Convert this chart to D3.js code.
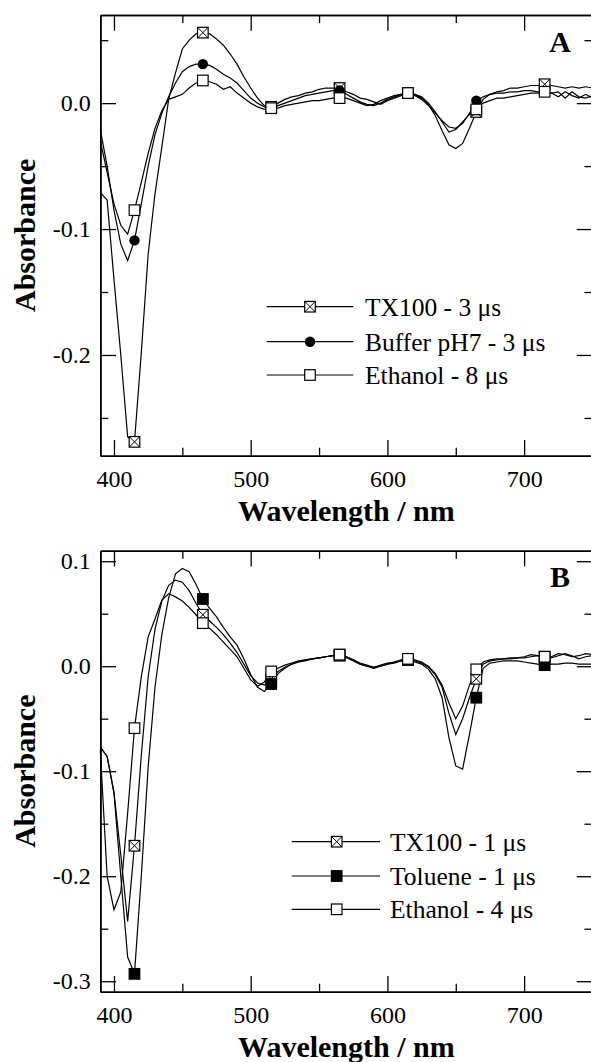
<!DOCTYPE html>
<html>
<head>
<meta charset="utf-8">
<script src="https://cdn.jsdelivr.net/npm/d3@7"></script>
<style>
  body { margin: 0; background: #fff; }
</style>
</head>
<body>
<svg id="chart" width="591" height="1062"></svg>
<script>
// wavelength grid (nm)
const wavelengths = [
  390, 395, 400, 405, 410, 415, 420, 425, 430, 435,
  440, 445, 450, 455, 460, 465, 470, 475, 480, 485,
  490, 495, 500, 505, 510, 515, 520, 525, 530, 535,
  540, 545, 550, 555, 560, 565, 570, 575, 580, 585,
  590, 595, 600, 605, 610, 615, 620, 625, 630, 635,
  640, 645, 650, 655, 660, 665, 670, 675, 680, 685,
  690, 695, 700, 705, 710, 715, 720, 725, 730, 735,
  740, 745, 750
];
const markerWl = [415, 465, 515, 565, 615, 665, 715];

// panel A
const tx100A = [
  -0.071, -0.077, -0.140, -0.200, -0.265, -0.269, -0.198, -0.120, -0.072, -0.035,
  0.003, 0.024, 0.043, 0.050, 0.055, 0.056, 0.055, 0.051, 0.046, 0.039,
  0.031, 0.021, 0.012, 0.004, -0.002, -0.003, 0.000, 0.003, 0.005, 0.006,
  0.008, 0.009, 0.011, 0.012, 0.012, 0.012, 0.009, 0.007, 0.004, 0.003,
  0.001, -0.001, 0.002, 0.004, 0.006, 0.008, 0.007, 0.004, -0.001, -0.010,
  -0.022, -0.033, -0.036, -0.032, -0.020, -0.007, 0.003, 0.007, 0.009, 0.010,
  0.012, 0.012, 0.013, 0.014, 0.014, 0.015, 0.014, 0.013, 0.012, 0.013,
  0.012, 0.013, 0.012
];
const bufferA = [
  -0.021, -0.050, -0.085, -0.112, -0.125, -0.109, -0.080, -0.050, -0.025, -0.008,
  0.005, 0.016, 0.025, 0.029, 0.031, 0.031, 0.030, 0.027, 0.023, 0.020,
  0.016, 0.010, 0.004, 0.000, -0.003, -0.004, -0.002, 0.000, 0.002, 0.004,
  0.006, 0.007, 0.008, 0.009, 0.010, 0.010, 0.007, 0.004, 0.001, -0.001,
  -0.002, 0.000, 0.003, 0.005, 0.007, 0.008, 0.006, 0.003, -0.002, -0.008,
  -0.014, -0.019, -0.020, -0.016, -0.008, 0.002, 0.005, 0.007, 0.008, 0.008,
  0.009, 0.009, 0.010, 0.010, 0.009, 0.009, 0.008, 0.005, 0.009, 0.006,
  0.004, 0.007, 0.004
];
const ethanolA = [
  -0.030, -0.055, -0.080, -0.097, -0.104, -0.085, -0.063, -0.040, -0.020, -0.006,
  0.003, 0.005, 0.007, 0.012, 0.016, 0.018, 0.017, 0.015, 0.011, 0.013,
  0.008, 0.004, 0.000, -0.003, -0.005, -0.004, -0.004, -0.002, -0.001, 0.000,
  0.001, 0.002, 0.002, 0.003, 0.004, 0.004, 0.004, 0.002, 0.000, -0.002,
  -0.001, 0.002, 0.004, 0.006, 0.007, 0.008, 0.007, 0.005, 0.000, -0.007,
  -0.015, -0.023, -0.021, -0.015, -0.009, -0.005, 0.000, 0.002, 0.004, 0.004,
  0.005, 0.006, 0.007, 0.008, 0.008, 0.009, 0.008, 0.009, 0.004, 0.009,
  0.005, 0.004, 0.006
];
const labelsA = ['TX100 - 3 \u03bcs', 'Buffer pH7 - 3 \u03bcs', 'Ethanol - 8 \u03bcs'];

// panel B
const tx100B = [
  -0.077, -0.086, -0.120, -0.180, -0.243, -0.171, -0.085, -0.010, 0.035, 0.062,
  0.077, 0.082, 0.080, 0.072, 0.060, 0.049, 0.043, 0.037, 0.030, 0.022,
  0.013, 0.002, -0.009, -0.016, -0.018, -0.012, -0.005, -0.001, 0.002, 0.004,
  0.005, 0.007, 0.008, 0.009, 0.010, 0.010, 0.008, 0.005, 0.002, 0.000,
  -0.001, 0.000, 0.002, 0.004, 0.005, 0.006, 0.005, 0.003, -0.001, -0.008,
  -0.020, -0.045, -0.065, -0.050, -0.030, -0.012, 0.002, 0.005, 0.006, 0.007,
  0.007, 0.008, 0.008, 0.009, 0.010, 0.009, 0.008, 0.010, 0.012, 0.010,
  0.007, 0.009, 0.010
];
const tolueneB = [
  -0.077, -0.086, -0.121, -0.200, -0.277, -0.293, -0.200, -0.096, -0.020, 0.030,
  0.065, 0.088, 0.093, 0.090, 0.078, 0.064, 0.055, 0.047, 0.037, 0.028,
  0.020, 0.007, -0.008, -0.020, -0.024, -0.017, -0.007, -0.002, 0.002, 0.004,
  0.006, 0.007, 0.008, 0.009, 0.010, 0.011, 0.009, 0.006, 0.002, 0.000,
  -0.002, 0.000, 0.002, 0.003, 0.005, 0.006, 0.004, 0.002, -0.003, -0.012,
  -0.030, -0.068, -0.095, -0.098, -0.065, -0.030, -0.002, 0.003, 0.004, 0.005,
  0.005, 0.005, 0.004, 0.003, 0.002, 0.001, 0.002, 0.002, 0.003, 0.003,
  0.002, 0.002, 0.002
];
const ethanolB = [
  -0.080, -0.200, -0.232, -0.215, -0.140, -0.059, -0.010, 0.028, 0.045, 0.063,
  0.069, 0.066, 0.062, 0.056, 0.049, 0.041, 0.036, 0.030, 0.023, 0.016,
  0.009, -0.002, -0.013, -0.019, -0.015, -0.005, -0.002, 0.001, 0.003, 0.005,
  0.006, 0.007, 0.008, 0.009, 0.010, 0.011, 0.009, 0.006, 0.003, 0.001,
  -0.001, 0.001, 0.003, 0.004, 0.006, 0.007, 0.006, 0.004, 0.000, -0.007,
  -0.018, -0.035, -0.050, -0.038, -0.018, -0.003, 0.004, 0.006, 0.007, 0.007,
  0.008, 0.008, 0.009, 0.011, 0.010, 0.009, 0.009, 0.012, 0.011, 0.009,
  0.010, 0.012, 0.011
];
const labelsB = ['TX100 - 1 \u03bcs', 'Toluene - 1 \u03bcs', 'Ethanol - 4 \u03bcs'];

// ticks
const xMajor = [400, 500, 600, 700];
const xMinor = [450, 550, 650, 750];
const yMajorA = [-0.2, -0.1, 0.0];
const yMinorA = [-0.25, -0.15, -0.05, 0.05];
const yMajorB = [-0.3, -0.2, -0.1, 0.0, 0.1];
const yMinorB = [-0.25, -0.15, -0.05, 0.05];

const font = '"Liberation Serif", "Times New Roman", Times, serif';
const svg = d3.select('#chart');

function drawMarker(g, type) {
  const s = 5.3;
  if (type === 'circle') {
    g.append('circle').attr('r', 5.2).attr('fill', '#000');
    return;
  }
  g.append('rect')
    .attr('x', -s).attr('y', -s).attr('width', 2 * s).attr('height', 2 * s)
    .attr('fill', type === 'filled' ? '#000' : '#fff')
    .attr('stroke', '#000').attr('stroke-width', 1.2);
  if (type === 'cross') {
    g.append('path')
      .attr('d', `M${-s},${-s}L${s},${s}M${s},${-s}L${-s},${s}`)
      .attr('stroke', '#000').attr('stroke-width', 1);
  }
}

function styleAxis(sel, showText) {
  sel.attr('font-family', font).attr('font-size', 24);
  sel.select('.domain').attr('stroke', '#000').attr('stroke-width', 1.6);
  sel.selectAll('.tick line').attr('stroke', '#000').attr('stroke-width', 1.3);
  sel.selectAll('.tick text').attr('fill', '#000');
  if (!showText) sel.selectAll('.tick text').remove();
}

function drawPanel(p) {
  const left = 100.3, right = 592.5;
  const x = d3.scaleLinear().domain([390, 750]).range([left, right]);
  const y = d3.scaleLinear().domain(p.yDomain).range([p.bottom, p.top]);
  const g = svg.append('g');
  const major = 15.7, minor = 8;

  // bottom
  g.append('g').attr('transform', `translate(0,${p.bottom})`)
    .call(d3.axisBottom(x).tickValues(xMajor).tickSize(-major).tickSizeOuter(0)
      .tickPadding(14).tickFormat(d3.format('d')))
    .call(styleAxis, true);
  g.append('g').attr('transform', `translate(0,${p.bottom})`)
    .call(d3.axisBottom(x).tickValues(xMinor).tickSize(-minor).tickSizeOuter(0))
    .call(styleAxis, false);
  // top
  g.append('g').attr('transform', `translate(0,${p.top})`)
    .call(d3.axisTop(x).tickValues(xMajor).tickSize(-major).tickSizeOuter(0))
    .call(styleAxis, false);
  g.append('g').attr('transform', `translate(0,${p.top})`)
    .call(d3.axisTop(x).tickValues(xMinor).tickSize(-minor).tickSizeOuter(0))
    .call(styleAxis, false);
  // left
  g.append('g').attr('transform', `translate(${left},0)`)
    .call(d3.axisLeft(y).tickValues(p.yMajor).tickSize(-major).tickSizeOuter(0)
      .tickPadding(9.5).tickFormat(d => d.toFixed(1)))
    .call(styleAxis, true);
  g.append('g').attr('transform', `translate(${left},0)`)
    .call(d3.axisLeft(y).tickValues(p.yMinor).tickSize(-minor).tickSizeOuter(0))
    .call(styleAxis, false);
  // right
  g.append('g').attr('transform', `translate(${right},0)`)
    .call(d3.axisRight(y).tickValues(p.yMajor).tickSize(-major).tickSizeOuter(0))
    .call(styleAxis, false);
  g.append('g').attr('transform', `translate(${right},0)`)
    .call(d3.axisRight(y).tickValues(p.yMinor).tickSize(-minor).tickSizeOuter(0))
    .call(styleAxis, false);

  // curves
  const line = d3.line().x((d, i) => x(wavelengths[i])).y(d => y(d));
  p.series.forEach(s => {
    g.append('path').datum(s.values)
      .attr('d', line)
      .attr('fill', 'none').attr('stroke', '#000').attr('stroke-width', 1.2)
      .attr('stroke-linejoin', 'miter');
  });
  // markers
  p.series.forEach(s => {
    const pts = markerWl.map(w => ({ w: w, v: s.values[wavelengths.indexOf(w)] }));
    g.selectAll(null).data(pts).enter().append('g')
      .attr('transform', d => `translate(${x(d.w)},${y(d.v)})`)
      .each(function () { drawMarker(d3.select(this), s.marker); });
  });

  // legend
  p.series.forEach((s, i) => {
    const ly = p.legend.rows[i];
    g.append('line')
      .attr('x1', p.legend.x0).attr('x2', p.legend.x1)
      .attr('y1', ly).attr('y2', ly)
      .attr('stroke', '#000').attr('stroke-width', 1.2);
    drawMarker(g.append('g').attr('transform', `translate(${p.legend.mx},${ly})`), s.marker);
    g.append('text')
      .attr('x', p.legend.tx).attr('y', ly + 9)
      .attr('font-family', font).attr('font-size', 25.5)
      .text(s.label);
  });

  // panel letter
  g.append('text')
    .attr('x', 560).attr('y', p.top + 36.5)
    .attr('text-anchor', 'middle')
    .attr('font-family', font).attr('font-size', 30).attr('font-weight', 'bold')
    .text(p.letter);

  // axis titles
  g.append('text')
    .attr('transform', `translate(35,${(p.top + p.bottom) / 2}) rotate(-90)`)
    .attr('text-anchor', 'middle')
    .attr('font-family', font).attr('font-size', 30).attr('font-weight', 'bold')
    .text('Absorbance');
  g.append('text')
    .attr('x', (left + right) / 2).attr('y', p.bottom + 65)
    .attr('text-anchor', 'middle')
    .attr('font-family', font).attr('font-size', 30).attr('font-weight', 'bold')
    .text('Wavelength / nm');
}

drawPanel({
  top: 15, bottom: 455.7, yDomain: [-0.28, 0.07],
  yMajor: yMajorA, yMinor: yMinorA, letter: 'A',
  series: [
    { values: tx100A, marker: 'cross', label: labelsA[0] },
    { values: bufferA, marker: 'circle', label: labelsA[1] },
    { values: ethanolA, marker: 'open', label: labelsA[2] }
  ],
  legend: { x0: 266.7, x1: 353.3, mx: 310, tx: 365, rows: [306.7, 341.7, 375] }
});

drawPanel({
  top: 550.7, bottom: 991.7, yDomain: [-0.31, 0.11],
  yMajor: yMajorB, yMinor: yMinorB, letter: 'B',
  series: [
    { values: tx100B, marker: 'cross', label: labelsB[0] },
    { values: tolueneB, marker: 'filled', label: labelsB[1] },
    { values: ethanolB, marker: 'open', label: labelsB[2] }
  ],
  legend: { x0: 291.7, x1: 380, mx: 336.7, tx: 390, rows: [841.7, 876, 909.3] }
});
</script>
</body>
</html>
